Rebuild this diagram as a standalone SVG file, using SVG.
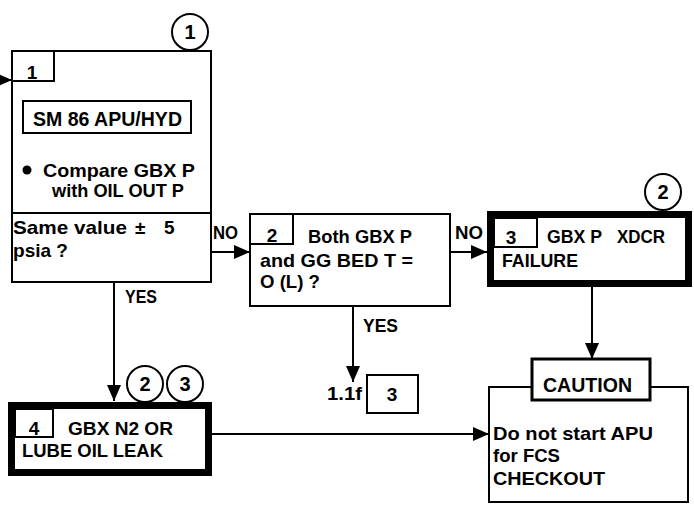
<svg xmlns="http://www.w3.org/2000/svg" width="694" height="509" viewBox="0 0 694 509">
<defs>
<style>
.bx{fill:#fff;stroke:#000;stroke-width:2}
.thick{fill:#fff;stroke:#000;stroke-width:7}
.sm{fill:none;stroke:#000;stroke-width:2}
.ln{fill:none;stroke:#000;stroke-width:2}
.t{font-family:"Liberation Sans",Arial,sans-serif;font-weight:bold;font-size:19px;fill:#000}
.big{font-size:20px}
.c{text-anchor:middle}
.cir{fill:#fff;stroke:#000;stroke-width:2}
</style>
<marker id="ah" markerWidth="16" markerHeight="14" refX="16" refY="7" orient="auto" markerUnits="userSpaceOnUse">
<path d="M0,0 L16,7 L0,14 Z" fill="#000"/>
</marker>
</defs>
<rect width="694" height="509" fill="#fff"/>

<g id="connectors">
<line class="ln" x1="0" y1="80" x2="12" y2="80" marker-end="url(#ah)"/>
<line class="ln" x1="211" y1="252" x2="250" y2="252" marker-end="url(#ah)"/>
<text class="t" x="213" y="239" textLength="25" lengthAdjust="spacingAndGlyphs">NO</text>
<line class="ln" x1="450" y1="252" x2="487" y2="252" marker-end="url(#ah)"/>
<text class="t" x="455" y="239" textLength="28" lengthAdjust="spacingAndGlyphs">NO</text>
<line class="ln" x1="114" y1="282" x2="114" y2="401" marker-end="url(#ah)"/>
<text class="t" x="125" y="303" textLength="32" lengthAdjust="spacingAndGlyphs">YES</text>
<line class="ln" x1="353" y1="306" x2="353" y2="382" marker-end="url(#ah)"/>
<text class="t" x="363" y="332" textLength="35" lengthAdjust="spacingAndGlyphs">YES</text>
<line class="ln" x1="592" y1="287" x2="592" y2="359" marker-end="url(#ah)"/>
<line class="ln" x1="212" y1="434" x2="489" y2="434" marker-end="url(#ah)"/>
</g>

<g id="node1">
<rect class="bx" x="12" y="51" width="199" height="231"/>
<line class="ln" x1="12" y1="213" x2="211" y2="213"/>
<rect class="sm" x="12" y="51" width="42" height="30"/>
<text class="t c" x="32" y="79">1</text>
<rect class="bx" x="23" y="101" width="168" height="32"/>
<text class="t big" x="33" y="126" textLength="149" lengthAdjust="spacingAndGlyphs">SM 86 APU/HYD</text>
<circle cx="27" cy="170" r="4.5" fill="#000"/>
<text class="t" x="43" y="177" textLength="152" lengthAdjust="spacingAndGlyphs">Compare GBX P</text>
<text class="t" x="52" y="197" textLength="132" lengthAdjust="spacingAndGlyphs">with OIL OUT P</text>
<text class="t" x="13" y="234" textLength="114" lengthAdjust="spacingAndGlyphs">Same value</text>
<text class="t" x="135" y="234">±</text>
<text class="t" x="164" y="234">5</text>
<text class="t" x="13" y="257" textLength="55" lengthAdjust="spacingAndGlyphs">psia ?</text>
<circle class="cir" cx="190" cy="32" r="18"/>
<text class="t big c" x="190" y="39">1</text>
</g>

<g id="node2">
<rect class="bx" x="250" y="214" width="200" height="92"/>
<rect class="sm" x="250" y="214" width="43" height="30"/>
<text class="t c" x="272" y="242">2</text>
<text class="t" x="308" y="243" textLength="104" lengthAdjust="spacingAndGlyphs">Both GBX P</text>
<text class="t" x="260" y="267" textLength="153" lengthAdjust="spacingAndGlyphs">and GG BED T =</text>
<text class="t" x="260" y="288" textLength="60" lengthAdjust="spacingAndGlyphs">O (L) ?</text>
</g>

<g id="node3">
<rect class="thick" x="490.5" y="214.5" width="198" height="69"/>
<rect class="sm" x="494" y="218" width="43" height="29"/>
<text class="t c" x="511" y="244">3</text>
<text class="t" x="547" y="243" textLength="55" lengthAdjust="spacingAndGlyphs">GBX P</text>
<text class="t" x="617" y="243" textLength="48" lengthAdjust="spacingAndGlyphs">XDCR</text>
<text class="t" x="502" y="267" textLength="76" lengthAdjust="spacingAndGlyphs">FAILURE</text>
<circle class="cir" cx="663" cy="192" r="18"/>
<text class="t big c" x="663" y="199">2</text>
</g>

<g id="node4">
<rect class="thick" x="11.5" y="405.5" width="197" height="67"/>
<rect class="sm" x="15" y="409" width="38" height="28"/>
<text class="t c" x="34" y="435">4</text>
<text class="t" x="68" y="435" textLength="105" lengthAdjust="spacingAndGlyphs">GBX N2 OR</text>
<text class="t" x="22" y="457" textLength="141" lengthAdjust="spacingAndGlyphs">LUBE OIL LEAK</text>
<circle class="cir" cx="145" cy="384" r="18"/>
<text class="t big c" x="145" y="391">2</text>
<circle class="cir" cx="185" cy="384" r="18"/>
<text class="t big c" x="185" y="391">3</text>
</g>

<g id="ref">
<text class="t" x="327" y="400" textLength="35" lengthAdjust="spacingAndGlyphs">1.1f</text>
<rect class="sm" x="367" y="375" width="51" height="38"/>
<text class="t c" x="392" y="401">3</text>
</g>

<g id="caution">
<rect class="bx" x="489" y="387" width="199" height="115"/>
<rect fill="#fff" stroke="#000" stroke-width="3" x="532" y="359" width="118" height="41"/>
<text class="t big" x="543" y="392" textLength="89" lengthAdjust="spacingAndGlyphs">CAUTION</text>
<text class="t" x="493" y="440" textLength="160" lengthAdjust="spacingAndGlyphs">Do not start APU</text>
<text class="t" x="493" y="462" textLength="67" lengthAdjust="spacingAndGlyphs">for FCS</text>
<text class="t" x="493" y="485" textLength="112" lengthAdjust="spacingAndGlyphs">CHECKOUT</text>
</g>
</svg>
